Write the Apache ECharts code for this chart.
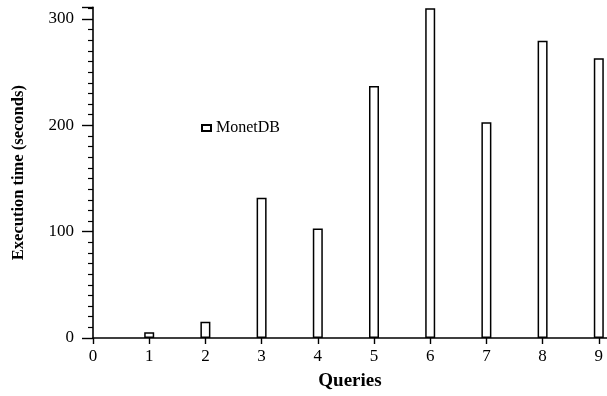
<!DOCTYPE html>
<html>
<head>
<meta charset="utf-8">
<script src="https://cdn.jsdelivr.net/npm/echarts@6/dist/echarts.min.js"></script>
<style>
html,body{margin:0;padding:0;background:#fff;}
#chart{width:607px;height:396px;}
</style>
</head>
<body>
<div id="chart"></div>
<script>
var queries = [1, 2, 3, 4, 5, 6, 7, 8, 9];
var execTimes = [5.5, 15.3, 132, 103, 237, 310, 203, 279.5, 263];
var seriesName = 'MonetDB';
var xAxisTitle = 'Queries';
var yAxisTitle = 'Execution time (seconds)';

var font = "'Liberation Serif', 'Times New Roman', serif";
var pairs = queries.map(function (q, i) { return [q, execTimes[i]]; });

var chart = echarts.init(document.getElementById('chart'), null, {renderer: 'canvas'});
chart.setOption({
  animation: false,
  backgroundColor: '#fff',
  grid: {left: 93, right: 0, top: 7.3, bottom: 49.3, containLabel: false},
  legend: {
    data: [seriesName],
    left: 201, top: 120, padding: 0,
    icon: 'rect', itemWidth: 9, itemHeight: 6,
    textStyle: {fontFamily: font, fontSize: 16, color: '#000'}
  },
  xAxis: {
    type: 'value', min: 0, max: 9.146, interval: 1,
    name: xAxisTitle, nameLocation: 'middle', nameGap: 34,
    nameTextStyle: {fontFamily: font, fontSize: 19, fontWeight: 'bold', color: '#000'},
    axisLine: {show: true, onZero: false, lineStyle: {color: '#000', width: 1.6}},
    axisTick: {show: true, length: 6, lineStyle: {color: '#000', width: 1.4}},
    splitLine: {show: false},
    axisLabel: {
      margin: 10, fontFamily: font, fontSize: 17, color: '#000', showMaxLabel: false,
      formatter: function (v) { return Math.abs(v - Math.round(v)) < 1e-6 ? String(Math.round(v)) : ''; }
    }
  },
  yAxis: {
    type: 'value', min: 0, max: 311, interval: 100,
    name: yAxisTitle, nameLocation: 'middle', nameGap: 66,
    nameTextStyle: {fontFamily: font, fontSize: 16.5, fontWeight: 'bold', color: '#000'},
    axisLine: {show: true, onZero: false, lineStyle: {color: '#000', width: 1.6}},
    axisTick: {show: true, length: 11, lineStyle: {color: '#000', width: 1.4}},
    minorTick: {show: true, splitNumber: 10, length: 5, lineStyle: {color: '#000', width: 1.2}},
    splitLine: {show: false},
    minorSplitLine: {show: false},
    axisLabel: {
      margin: 19, fontFamily: font, fontSize: 17, color: '#000', showMaxLabel: false,
      formatter: function (v) { return v % 100 === 0 ? String(v) : ''; }
    }
  },
  series: [{
    name: seriesName,
    type: 'bar',
    data: pairs,
    barWidth: 10,
    itemStyle: {color: '#fff', borderColor: '#000', borderWidth: 1.5}
  }]
});
</script>
</body>
</html>
